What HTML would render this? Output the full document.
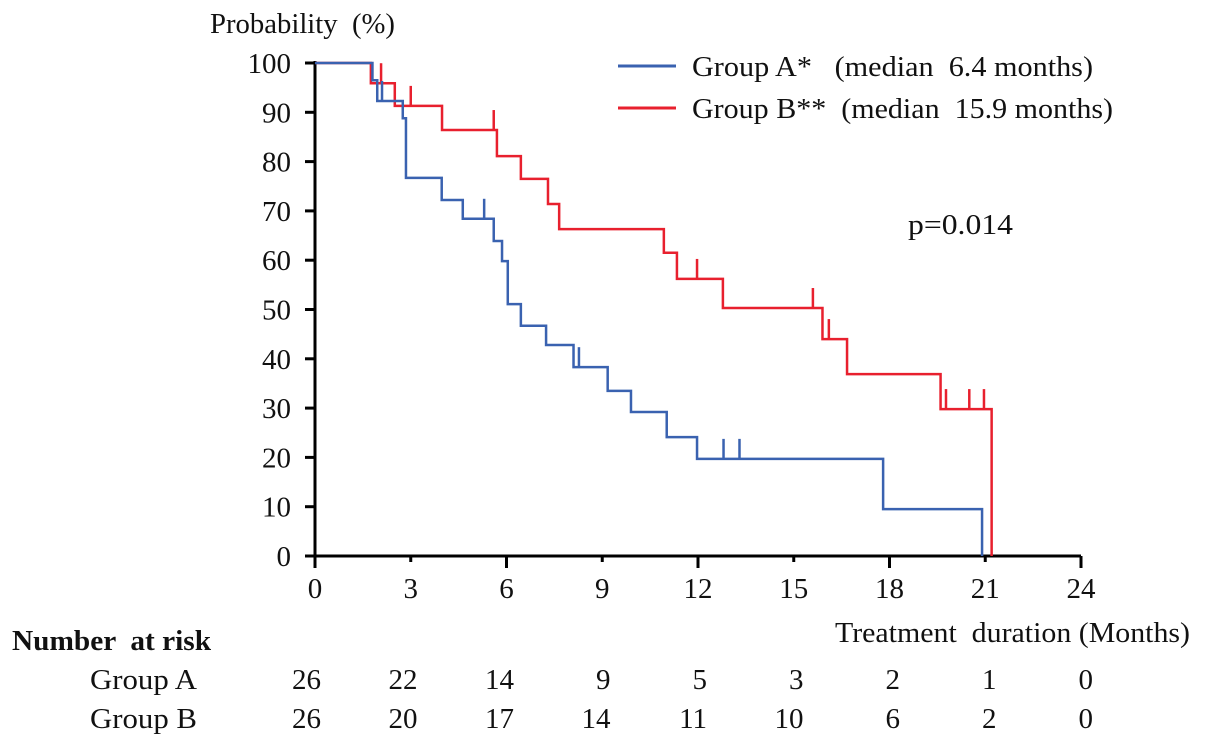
<!DOCTYPE html>
<html><head><meta charset="utf-8"><style>
body{margin:0;background:#fff;}
svg text{font-family:"Liberation Serif",serif;font-size:29px;fill:#111;white-space:pre;}
</style></head><body>
<svg id="chart" width="1205" height="743" xml:space="preserve">
<g id="axes"></g><g id="curves"></g><g id="labels"></g>
</svg>
<script>
const xTicks=[0,3,6,9,12,15,18,21,24];
const yTicks=[0,10,20,30,40,50,60,70,80,90,100];
const groupATimes=[0,1.8,1.95,2.75,2.85,3.97,4.63,5.6,5.86,6.04,6.45,7.24,8.1,9.17,9.9,11.02,11.97,17.8,20.9];
const groupAVals=[100,96.5,92.3,88.8,76.7,72.2,68.4,63.9,59.8,51.1,46.7,42.8,38.3,33.5,29.2,24.1,19.7,9.5,0];
const groupACensor=[2.1,5.3,8.27,12.8,13.3];
const groupBTimes=[0,1.75,2.5,3.98,5.7,6.45,7.3,7.65,10.93,11.34,12.78,15.9,16.67,19.6,21.2];
const groupBVals=[100,95.9,91.3,86.4,81.1,76.5,71.4,66.3,61.5,56.2,50.3,44.0,36.9,29.8,0];
const groupBCensor=[2.07,3.0,5.6,11.97,15.6,16.1,19.77,20.5,20.96];
const riskA=[26,22,14,9,5,3,2,1,0];
const riskB=[26,20,17,14,11,10,6,2,0];
const NS="http://www.w3.org/2000/svg";
const X=t=>315+t*(1081-315)/24;
const Y=p=>556-p*(556-63)/100;
function mk(tag,attrs,parent,txt){const e=document.createElementNS(NS,tag);for(const k in attrs)e.setAttribute(k,attrs[k]);if(txt!==undefined)e.textContent=txt;document.getElementById(parent).appendChild(e);return e;}
function lbl(x,y,txt,w,extra){const a={x:x,y:y};if(w){a.textLength=w;a.lengthAdjust='spacingAndGlyphs';}Object.assign(a,extra||{});return mk('text',a,'labels',txt);}
let e;
e=mk('line',{x1:X(0),y1:Y(100)-2,x2:X(0),y2:Y(0),stroke:'#000','stroke-width':3},'axes');


e=mk('line',{x1:X(0),y1:Y(0),x2:X(24),y2:Y(0),stroke:'#000','stroke-width':3},'axes');


yTicks.forEach(v=>{
 e=mk('line',{x1:X(0)-10,y1:Y(v),x2:X(0),y2:Y(v),stroke:'#000','stroke-width':3},'axes');
 
 
 e=mk('text',{x:X(0)-24,y:Y(v)+10,'text-anchor':'end'},'labels',String(v));
 
 
});
xTicks.forEach((v,i)=>{
 e=mk('line',{x1:X(v),y1:Y(0),x2:X(v),y2:Y(0)+(i%2?6:12),stroke:'#000','stroke-width':3},'axes');
 
 
 e=mk('text',{x:X(v),y:598,'text-anchor':'middle'},'labels',String(v));
 
 
});
function curve(times,vals,cens,color,name){
 let d='M'+X(times[0])+','+Y(vals[0]);
 for(let i=1;i<times.length;i++){d+=' H'+X(times[i])+' V'+Y(vals[i]);}
 e=mk('path',{d:d,fill:'none',stroke:color,'stroke-width':2.5},'curves');
 
 
 cens.forEach(t=>{let v=vals[0];for(let i=0;i<times.length;i++){if(times[i]<=t)v=vals[i];}
  e=mk('line',{x1:X(t),y1:Y(v),x2:X(t),y2:Y(v)-20,stroke:color,'stroke-width':2.5},'curves');
  
  
 });
}
curve(groupBTimes,groupBVals,groupBCensor,'#e8202e','group-b');
curve(groupATimes,groupAVals,groupACensor,'#3a62b0','group-a');
e=lbl(210,33,'Probability  (%)',185);


e=mk('line',{x1:618,y1:66,x2:676,y2:66,stroke:'#3a62b0','stroke-width':3},'labels');


e=lbl(692,76,'Group A*   (median  6.4 months)',401);


e=mk('line',{x1:618,y1:108,x2:676,y2:108,stroke:'#e8202e','stroke-width':3},'labels');


e=lbl(692,118,'Group B**  (median  15.9 months)',421);


e=lbl(908,234,'p=0.014',105);


e=lbl(835,642,'Treatment  duration (Months)',355);


e=lbl(12,650,'Number  at risk',199,{'font-weight':'bold'});


e=lbl(90,689,'Group A',107);


e=lbl(90,728,'Group B',107);


riskA.forEach((v,i)=>{
 e=mk('text',{x:321+i*96.5,y:689,'text-anchor':'end'},'labels',String(v));
 
 
});
riskB.forEach((v,i)=>{
 e=mk('text',{x:321+i*96.5,y:728,'text-anchor':'end'},'labels',String(v));
 
 
});
</script>
</body></html>
